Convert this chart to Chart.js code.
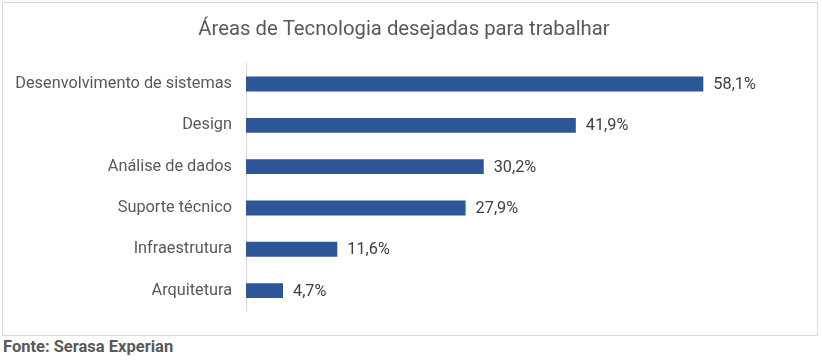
<!DOCTYPE html>
<html>
<head>
<meta charset="utf-8">
<script src="https://cdn.jsdelivr.net/npm/chart.js@4"></script>
<style>
  body { margin: 0; background: #fff; font-family: Roboto, sans-serif; }
  #box { position: absolute; left: 2px; top: 2px; width: 814px; height: 332px; border: 1px solid #d9d9d9; }
  #fonte { position: absolute; left: 3px; top: 337px; font: bold 16.5px Roboto, sans-serif; color: #595959; }
</style>
</head>
<body>
<div id="box"><canvas id="chart" width="814" height="332"></canvas></div>
<div id="fonte">Fonte: Serasa Experian</div>
<script>
const categories = ['Desenvolvimento de sistemas', 'Design', 'Análise de dados', 'Suporte técnico', 'Infraestrutura', 'Arquitetura'];
const values = [58.1, 41.9, 30.2, 27.9, 11.6, 4.7];

function fmt(v) { return v.toFixed(1).replace('.', ',') + '%'; }

// writes the value at the end of each bar
const valueLabels = {
  id: 'valueLabels',
  afterDatasetsDraw(chart) {
    const ctx = chart.ctx;
    const meta = chart.getDatasetMeta(0);
    ctx.save();
    ctx.font = '16.3px Roboto';
    ctx.fillStyle = '#404040';
    ctx.textAlign = 'left';
    ctx.textBaseline = 'middle';
    meta.data.forEach((bar, i) => {
      ctx.fillText(fmt(values[i]), bar.x + 10, bar.y + 1);
    });
    ctx.restore();
  }
};

new Chart(document.getElementById('chart'), {
  type: 'bar',
  data: {
    labels: categories,
    datasets: [{ data: values, backgroundColor: '#2C5697', barPercentage: 0.36, categoryPercentage: 1 }]
  },
  options: {
    indexAxis: 'y',
    responsive: false,
    animation: false,
    layout: { padding: { left: 8, right: 20, top: 0, bottom: 20 } },
    plugins: {
      legend: { display: false },
      tooltip: { enabled: false },
      title: {
        display: true,
        text: 'Áreas de Tecnologia desejadas para trabalhar',
        color: '#595959',
        font: { family: 'Roboto', size: 20.3, weight: 'normal' },
        padding: { top: 15, bottom: 21 }
      }
    },
    scales: {
      x: { display: false, min: 0, max: 70 },
      y: {
        grid: { display: false, drawTicks: false },
        border: { display: true, color: '#d9d9d9' },
        ticks: { color: '#595959', font: { family: 'Roboto', size: 16.3 }, padding: 14 },
        afterFit(scale) { scale.width = 235; }
      }
    }
  },
  plugins: [valueLabels]
});
</script>
</body>
</html>
